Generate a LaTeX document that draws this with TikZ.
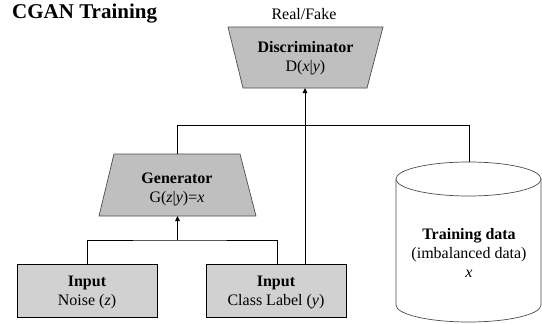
\documentclass[tikz,border=0pt]{standalone}
\usepackage{fontspec}
\setmainfont{Liberation Serif}
\usetikzlibrary{arrows.meta}
\begin{document}
\begin{tikzpicture}[x=1pt,y=-1pt,
  txt/.style={align=center,inner sep=0pt,font=\fontsize{16}{19}\selectfont},
  trap/.style={draw=black!70,line width=0.7pt,fill=black!25},
  inbox/.style={rectangle,draw=black,line width=0.8pt,fill=black!18,
    minimum width=140pt,minimum height=53pt,inner sep=0pt},
  cyl/.style={draw=black!70,line width=0.7pt},
  wire/.style={line width=0.9pt,draw=black},
  arr/.style={wire,-{Triangle[length=5pt,width=4.5pt]}}]
\useasboundingbox (0,0) rectangle (542,324);

% title and output label
\node[txt,anchor=west,font=\fontsize{21}{24}\selectfont\bfseries] (title) at (12,14) {CGAN Training};
\node[txt] (out) at (304,14) {Real/Fake};

% discriminator (wide side on top)
\draw[trap] (228,27) -- (383,27) -- (367,88) -- (243,88) -- cycle;
\coordinate (discin) at (305,88);
\node[txt] (disctext) at (305.5,58) {\textbf{Discriminator}\\D(\textit{x}|\textit{y})};

% generator (wide side at the bottom)
\draw[trap] (114,154) -- (240,154) -- (256,216) -- (99,216) -- cycle;
\coordinate (gentop) at (177.5,154);
\coordinate (genin) at (177.5,216);
\node[txt] (gentext) at (177,189.5) {\textbf{Generator}\\G(\textit{z}|\textit{y})=\textit{x}};

% inputs
\node[inbox] (noise) at (87,290.5) {};
\node[txt] (noisetext) at (87,292) {\textbf{Input}\\Noise (\textit{z})};
\node[inbox] (label) at (276,290.5) {};
\node[txt] (labeltext) at (276,292) {\textbf{Input}\\Class Label (\textit{y})};

% training data cylinder
\fill[white] (396,179) -- (396,305) arc[start angle=180,end angle=0,x radius=72.5,y radius=17] -- (541,179) -- cycle;
\draw[cyl] (396,179) -- (396,305)
  arc[start angle=180,end angle=0,x radius=72.5,y radius=17] -- (541,179);
\draw[cyl,fill=white] (468.5,179) ellipse[x radius=72.5,y radius=17];
\coordinate (datatop) at (469,162);
\node[txt] (data) at (469,253) {\textbf{Training data}\\(imbalanced data)\\\textit{x}};

% connectors
\coordinate (merge) at (177.5,240);
\draw[wire] (noise.north) |- (merge) -| (label.north -| 277,0);
\draw[arr] (merge) -- (genin);
\draw[wire] (gentop) |- (469,125) -- (datatop);
\draw[arr] (label.north -| 305,0) -- (discin);
\end{tikzpicture}
\end{document}
